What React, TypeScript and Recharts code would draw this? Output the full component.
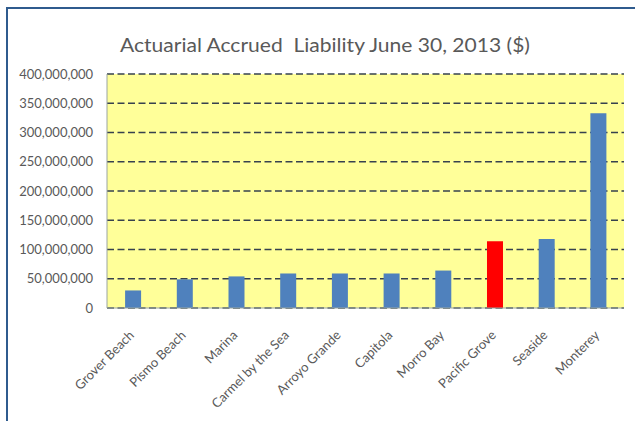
import React from "react";
import { BarChart, Bar, XAxis, YAxis, CartesianGrid, Cell } from "recharts";

const cities = [
  "Grover Beach",
  "Pismo Beach",
  "Marina",
  "Carmel by the Sea",
  "Arroyo Grande",
  "Capitola",
  "Morro Bay",
  "Pacific Grove",
  "Seaside",
  "Monterey",
];
const liability = [30e6, 49e6, 54e6, 59e6, 59e6, 59e6, 64e6, 114e6, 118e6, 333e6];
const highlighted = "Pacific Grove";
const yTicks = [0, 50e6, 100e6, 150e6, 200e6, 250e6, 300e6, 350e6, 400e6];
const title = "Actuarial Accrued  Liability June 30, 2013 ($)";

const data = cities.map((c, i) => ({ city: c, value: liability[i] }));

const FONT = "Lato, 'Open Sans', sans-serif";
const TEXT = "#595959";

const fmt = (v: number) => v.toLocaleString("en-US");

const YTick = (props: any) => {
  const { x, y, payload } = props;
  return (
    <text x={x} y={y} dy="0.35em" textAnchor="end" fontFamily={FONT} fontSize={13} fill={TEXT}>
      {fmt(payload.value)}
    </text>
  );
};

const XTick = (props: any) => {
  const { x, y, payload } = props;
  return (
    <g transform={`translate(${x + 2},${y + 28})`}>
      <text x={0} y={0} textAnchor="end" transform="rotate(-45)" fontFamily={FONT} fontSize={13} fill={TEXT}>
        {payload.value}
      </text>
    </g>
  );
};

export default function App() {
  return (
    <div style={{ position: "absolute", left: 0, top: 0, width: 635, height: 421, overflow: "hidden", background: "#fff" }}>
      <div
        style={{
          position: "absolute",
          left: 6,
          top: 7,
          width: 660,
          height: 440,
          borderLeft: "2px solid #2F5B8E",
          borderTop: "2px solid #2F5B8E",
        }}
      />
      <div style={{ position: "absolute", left: 0, top: 0 }}>
        <BarChart
          width={635}
          height={421}
          data={data}
          margin={{ top: 74, right: 11, bottom: 0, left: 0 }}
          barCategoryGap="35%"
        >
          <CartesianGrid
            vertical={false}
            stroke="#36414E"
            strokeWidth={1.4}
            strokeDasharray="7 3.5"
            fill="#FFFF99"
            fillOpacity={1}
          />
          <XAxis
            dataKey="city"
            height={113}
            interval={0}
            tickLine={false}
            tickSize={0}
            tickMargin={0}
            axisLine={{ stroke: "#9AA5A0", strokeWidth: 1 }}
            tick={<XTick />}
          />
          <YAxis
            width={107}
            domain={[0, 400e6]}
            ticks={yTicks}
            interval={0}
            tickLine={false}
            tickSize={0}
            tickMargin={14}
            axisLine={{ stroke: "#9AA5A0", strokeWidth: 1 }}
            tick={<YTick />}
          />
          <YAxis
            yAxisId="frame"
            orientation="right"
            width={0}
            tick={false}
            tickLine={false}
            axisLine={{ stroke: "#9AA5A0", strokeWidth: 1 }}
          />
          <Bar dataKey="value" isAnimationActive={false}>
            {data.map((d) => (
              <Cell key={d.city} fill={d.city === highlighted ? "#FF0000" : "#4F81BD"} />
            ))}
          </Bar>
        </BarChart>
      </div>
      <svg width={635} height={421} style={{ position: "absolute", left: 0, top: 0, pointerEvents: "none" }}>
        <text
          x={325}
          y={52}
          textAnchor="middle"
          fontFamily={FONT}
          fontSize={19.5}
          fill={TEXT}
          textLength={410}
          lengthAdjust="spacingAndGlyphs"
          style={{ whiteSpace: "pre" }}
        >
          {title}
        </text>
      </svg>
    </div>
  );
}
